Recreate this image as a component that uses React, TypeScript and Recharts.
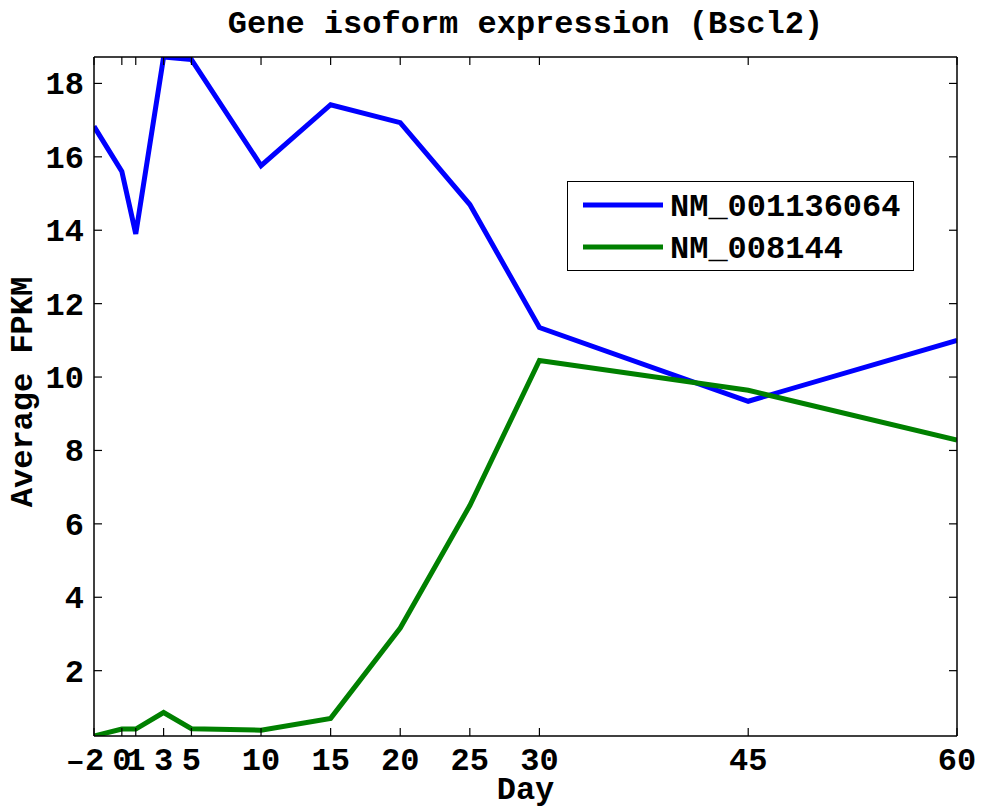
import React from 'react';
import { LineChart, Line, XAxis, YAxis, Legend, Label } from 'recharts';

const days = [-2, 0, 1, 3, 5, 10, 15, 20, 25, 30, 45, 60];
const nm001136064 = [16.83, 15.6, 13.9, 18.72, 18.65, 15.76, 17.42, 16.93, 14.7, 11.35, 9.34, 11.0];
const nm008144 = [0.22, 0.41, 0.41, 0.86, 0.42, 0.38, 0.7, 3.16, 6.5, 10.45, 9.64, 8.28];
const xTicks = [-2, 0, 1, 3, 5, 10, 15, 20, 25, 30, 45, 60];
const yTicks = [2, 4, 6, 8, 10, 12, 14, 16, 18];
const seriesNames = ['NM_001136064', 'NM_008144'];
const seriesColors = ['#0000ff', '#008000'];
const title = 'Gene isoform expression (Bscl2)';
const xLabel = 'Day';
const yLabel = 'Average FPKM';

const data = days.map((d, i) => ({ day: d, a: nm001136064[i], b: nm008144[i] }));

const W = 981;
const H = 812;
const PL = 94;
const PR = 957;
const PT = 57;
const PB = 736;
const FONT = '"Liberation Mono", "Courier New", monospace';
const FS = 32;
const TL = 8;

const textStyle = { fontFamily: FONT, fontSize: FS, fontWeight: 700, fill: '#000' } as const;

const BottomTick = (p: any) => (
  <g>
    <line x1={p.x} x2={p.x} y1={PB} y2={PB - TL} stroke="#000" strokeWidth={1.2} />
    <text x={p.x} y={770} dx={p.payload.value < 0 ? -9 : 0} textAnchor="middle" style={textStyle}>
      {p.payload.value < 0 ? '\u2013' + Math.abs(p.payload.value) : p.payload.value}
    </text>
  </g>
);
const TopTick = (p: any) => (
  <line x1={p.x} x2={p.x} y1={PT} y2={PT + TL} stroke="#000" strokeWidth={1.2} />
);
const LeftTick = (p: any) => (
  <g>
    <line x1={PL} x2={PL + TL} y1={p.y} y2={p.y} stroke="#000" strokeWidth={1.2} />
    <text x={84} y={p.y} dy={11} textAnchor="end" style={textStyle}>{p.payload.value}</text>
  </g>
);
const RightTick = (p: any) => (
  <line x1={PR} x2={PR - TL} y1={p.y} y2={p.y} stroke="#000" strokeWidth={1.2} />
);

const LegendBox = () => (
  <div style={{ width: 347, height: 90, border: '1.5px solid #000', background: '#fff', boxSizing: 'border-box' }}>
    <svg width={345} height={88}>
      {seriesNames.map((n, i) => (
        <g key={n}>
          <line x1={15} x2={95} y1={23 + i * 42} y2={23 + i * 42} stroke={seriesColors[i]} strokeWidth={5} />
          <text x={102} y={34 + i * 42} style={textStyle}>{n}</text>
        </g>
      ))}
    </svg>
  </div>
);

export default function App() {
  return (
    <div style={{ position: 'absolute', left: 0, top: 0, width: W, height: H, background: '#fff' }}>
      <LineChart width={W} height={H} data={data} margin={{ top: PT - 1, right: W - PR - 1, bottom: 0, left: 0 }}>
        <XAxis
          dataKey="day"
          type="number"
          domain={[-2, 60]}
          ticks={xTicks}
          interval={0}
          height={H - PB}
          tickLine={false}
          tick={BottomTick}
          stroke="#000"
          strokeWidth={1.5}
          allowDataOverflow
        >
          <Label content={() => (
            <text x={(PL + PR) / 2} y={799} textAnchor="middle" style={textStyle}>{xLabel}</text>
          )} />
        </XAxis>
        <XAxis
          xAxisId="top"
          orientation="top"
          dataKey="day"
          type="number"
          domain={[-2, 60]}
          ticks={xTicks}
          interval={0}
          height={1}
          tickLine={false}
          tick={TopTick}
          stroke="#000"
          strokeWidth={1.5}
          allowDataOverflow
        >
          <Label content={() => (
            <text x={(PL + PR) / 2} y={33} textAnchor="middle" style={textStyle}>{title}</text>
          )} />
        </XAxis>
        <YAxis
          type="number"
          domain={[0.22, 18.72]}
          ticks={yTicks}
          interval={0}
          width={PL}
          tickLine={false}
          tick={LeftTick}
          stroke="#000"
          strokeWidth={1.5}
          allowDataOverflow
        >
          <Label content={() => (
            <text
              x={32}
              y={392}
              textAnchor="middle"
              transform={`rotate(-90, 32, 392)`}
              style={textStyle}
            >{yLabel}</text>
          )} />
        </YAxis>
        <YAxis
          yAxisId="right"
          orientation="right"
          type="number"
          domain={[0.22, 18.72]}
          ticks={yTicks}
          interval={0}
          width={1}
          tickLine={false}
          tick={RightTick}
          stroke="#000"
          strokeWidth={1.5}
          allowDataOverflow
        />
        <Legend
          layout="vertical"
          align="center"
          verticalAlign="middle"
          content={LegendBox}
          wrapperStyle={{ left: 567, top: 181, width: 347, height: 90 }}
        />
        <Line xAxisId="top" yAxisId="right" dataKey="a" stroke="none" strokeWidth={0} dot={false} activeDot={false} legendType="none" isAnimationActive={false} />
        <Line dataKey="a" name={seriesNames[0]} stroke={seriesColors[0]} strokeWidth={5} dot={false} isAnimationActive={false} />
        <Line dataKey="b" name={seriesNames[1]} stroke={seriesColors[1]} strokeWidth={5} dot={false} isAnimationActive={false} />
      </LineChart>
    </div>
  );
}
